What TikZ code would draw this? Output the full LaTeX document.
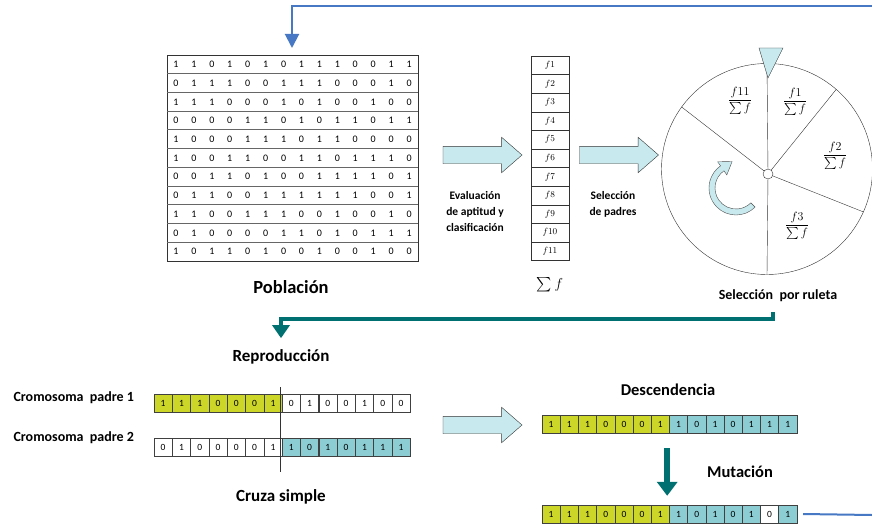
\documentclass[tikz,border=0pt]{standalone}
\usepackage{amsmath}
\usepackage{fontspec}
\setmainfont{Carlito}
\usetikzlibrary{arrows.meta,shapes.arrows}

\definecolor{flecha}{RGB}{200,234,238}
\definecolor{verdeazul}{RGB}{0,112,112}
\definecolor{azul}{RGB}{70,120,195}
\definecolor{amarillo}{RGB}{204,214,40}
\definecolor{celeste}{RGB}{140,205,212}

\begin{document}
\begin{tikzpicture}
  [
    x=1pt, y=-1pt,
    every node/.style = {font=\bfseries\fontsize{17}{19}\selectfont},
    tam/.style        = {font=\bfseries\fontsize{#1}{#1}\selectfont},
    bit/.style        = {font=\fontsize{10}{11}\selectfont, inner sep=0pt},
    celda/.style      = {draw=black!75, minimum width=18.2pt, minimum height=18pt,
                         inner sep=0pt, font=\fontsize{9.5}{10}\selectfont},
    bloque/.style     = {single arrow, draw=black!80, fill=flecha, inner xsep=0pt,
                         inner ysep=8.5pt, single arrow head extend=9pt,
                         single arrow tip angle=82, minimum height=79pt},
    paso/.style       = {align=center, font=\bfseries\fontsize{11.5}{16}\selectfont},
    fraccion/.style   = {font=\fontsize{13}{15}\selectfont, inner sep=1pt},
    conector/.style   = {draw=verdeazul, line width=4.5pt,
                         -{Triangle[width=17pt,length=13pt]}},
    retorno/.style    = {draw=azul, line width=2pt}
  ]
 \useasboundingbox (0,0) rectangle (872,524);

 % poblacion
 \node[draw=black!80, minimum width=251pt, minimum height=206pt, inner sep=0pt]
   (poblacion) at (292.5,158) {};
 \foreach \i in {1,...,10}
   \draw[black!60, line width=0.9pt] (167,{55+18.73*\i}) -- (418,{55+18.73*\i});
 \foreach \fila [count=\i] in {
   {1,1,0,1,0,1,0,1,1,1,0,0,1,1},
   {0,1,1,1,0,0,1,1,1,0,0,0,1,0},
   {1,1,1,0,0,0,1,0,1,0,0,1,0,0},
   {0,0,0,0,1,1,0,1,0,1,1,0,1,1},
   {1,0,0,0,1,1,1,0,1,1,0,0,0,0},
   {1,0,0,1,1,0,0,1,1,0,1,1,1,0},
   {0,0,1,1,0,1,0,0,1,1,1,1,0,1},
   {0,1,1,0,0,1,1,1,1,1,1,0,0,1},
   {1,1,0,0,1,1,1,0,0,1,0,0,1,0},
   {0,1,0,0,0,0,1,1,0,1,0,1,1,1},
   {1,0,1,1,0,1,0,0,1,0,0,1,0,0}}
   \foreach \b [count=\j] in \fila
     \node[bit] (b-\i-\j) at ({167+17.93*(\j-0.5)},{55+18.73*(\i-0.5)}) {\b};
 \node[tam=18.5] (txtpoblacion) at (291,287) {Población};

 % aptitud
 \node[bloque] (flechaeval) at (477.5,155) {};
 \node[paso] (txteval) at (475,212) {Evaluación\\de aptitud y\\clasificación};
 \foreach \k in {1,...,11}
   \node[draw=black!80, minimum width=38pt, minimum height=18.6pt, inner sep=0pt,
         font=\fontsize{9}{10}\selectfont] (f-\k) at (550,{56+18.6*(\k-0.5)}) {$f\k$};
 \node[font=\fontsize{14}{15}\selectfont] (suma) at (550,285) {$\sum f$};

 % ruleta
 \node[bloque] (flechasel) at (614,155) {};
 \node[paso] (txtsel) at (613,204) {Selección\\de padres};
 \node[draw=black!80, circle, minimum size=211pt, inner sep=0pt] (ruleta) at (767,169) {};
 \foreach \a in {90,144,49,-24,270}
   \draw[black!80] (768,174) -- (ruleta.\a);
 \node[draw=black!80, fill=white, circle, minimum size=10pt, inner sep=0pt] (eje) at (768,174) {};
 \draw[black!80, fill=flecha] (759,48) -- (783,48) -- (768,78) -- cycle;
 \node[fraccion] (p11) at (740,101) {$\dfrac{f11}{\sum f}$};
 \node[fraccion] (p1) at (795,102) {$\dfrac{f1}{\sum f}$};
 \node[fraccion] (p2) at (835,156) {$\dfrac{f2}{\sum f}$};
 \node[fraccion] (p3) at (797,226) {$\dfrac{f3}{\sum f}$};
 \begin{scope}[shift={(736,188)}]
  \filldraw[fill=flecha, draw=black!70]
    (45:27) arc[start angle=45, end angle=235, radius=27] -- (235:32)
    -- (-3.9,-26.5) -- (235:16) -- (235:21)
    arc[start angle=235, end angle=45, radius=21] -- cycle;
 \end{scope}
 \node[tam=14] (txtruleta) at (778,296) {Selección~ por ruleta};

 % reproduccion
 \coordinate (giro) at (773,312);
 \node (txtrepro) at (281,357) {Reproducción};
 \draw[conector, shorten >=8pt] (giro) -- (773,319) -| (txtrepro.north);

 \node[anchor=west, tam=14] (txtpadre1) at (10,398) {Cromosoma~ padre 1};
 \node[anchor=west, tam=14] (txtpadre2) at (10,438) {Cromosoma~ padre 2};
 \foreach \b [count=\j] in {1,1,1,0,0,0,1,0,1,0,0,1,0,0} {
   \ifnum\j<8 \def\tono{amarillo}\else\def\tono{white}\fi
   \node[celda, fill=\tono] (p1-\j) at ({154+18.3*(\j-0.5)},403) {\b};
 }
 \foreach \b [count=\j] in {0,1,0,0,0,0,1,1,0,1,0,1,1,1} {
   \ifnum\j<8 \def\tono{white}\else\def\tono{celeste}\fi
   \node[celda, fill=\tono] (p2-\j) at ({154+18.3*(\j-0.5)},447) {\b};
 }
 \draw[black!80] (280,387) -- (280,472);
 \node (txtcruza) at (281,497) {Cruza simple};

 % descendencia
 \node[bloque] (flechahijo) at (477.5,425) {};
 \node[tam=16.5] (txthijo) at (668,390) {Descendencia};
 \foreach \b [count=\j] in {1,1,1,0,0,0,1,1,0,1,0,1,1,1} {
   \ifnum\j<8 \def\tono{amarillo}\else\def\tono{celeste}\fi
   \node[celda, fill=\tono] (h-\j) at ({542+18.2*(\j-0.5)},424) {\b};
 }
 \node[tam=16.5] (txtmut) at (740,472) {Mutación};
 \foreach \b [count=\j] in {1,1,1,0,0,0,1,1,0,1,0,1,0,1} {
   \ifnum\j<8 \def\tono{amarillo}\else\def\tono{celeste}\fi
   \ifnum\j=13 \def\tono{white}\fi
   \node[celda, fill=\tono] (m-\j) at ({542+18.2*(\j-0.5)},514) {\b};
 }
 \draw[draw=verdeazul, line width=6pt, -{Triangle[width=20pt,length=14pt]},
       shorten <=15pt, shorten >=9pt] (h-8.south west) ++(-2,0) coordinate (mutini)
       (mutini) -- (mutini |- m-8.north);

 % vuelta al inicio
 \coordinate (salida) at (872,515);
 \draw[retorno] ([xshift=6pt]m-14.east) -- (salida);
 \coordinate (entrada) at (872,6);
 \draw[retorno, -{Triangle[width=14pt,length=14pt]}, shorten >=7pt]
   (entrada) -- (292,6) -- (292,55);
\end{tikzpicture}
\end{document}
